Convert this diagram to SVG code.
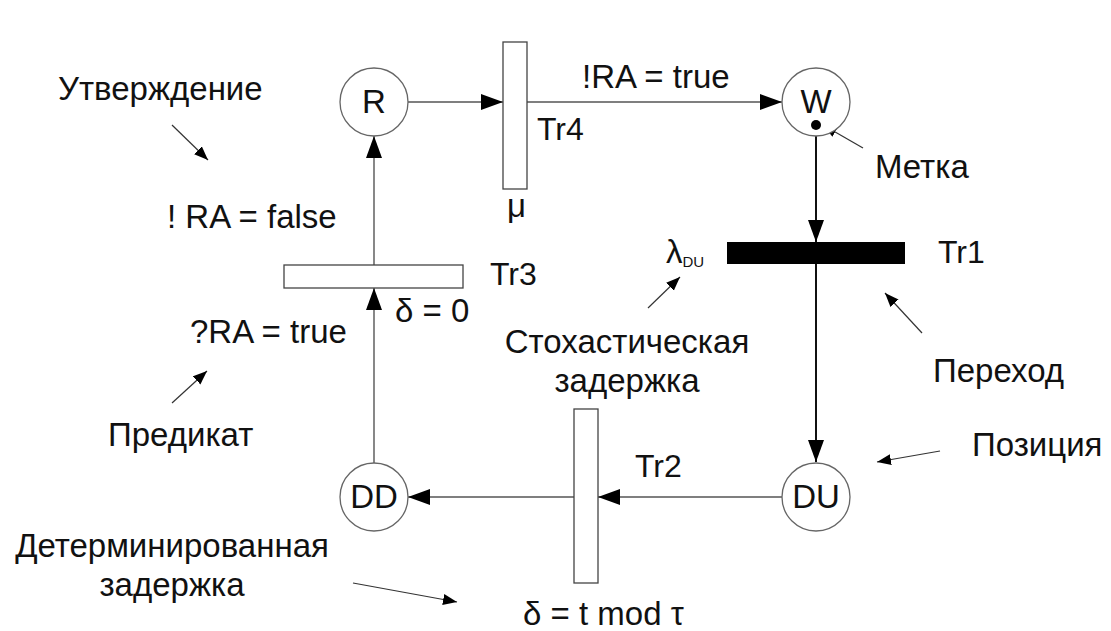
<svg xmlns="http://www.w3.org/2000/svg" width="1111" height="631" viewBox="0 0 1111 631">
<style>
text{font-family:"Liberation Sans",Arial,sans-serif;font-size:33px;fill:#111}
.tr{font-size:32px}
.place{fill:#fff;stroke:#666;stroke-width:1.3}
.trans{fill:#fff;stroke:#444;stroke-width:1.3}
.conn{fill:none;stroke:#555;stroke-width:1.4}
.connb{fill:none;stroke:#111;stroke-width:2}
.ann{fill:none;stroke:#333;stroke-width:1.2}
</style>
<defs>
<marker id="ah" markerUnits="userSpaceOnUse" markerWidth="24" markerHeight="18" refX="22" refY="8" orient="auto"><path d="M0,0 L22,8 L0,16 z" fill="#000"/></marker>
<marker id="sh" markerUnits="userSpaceOnUse" markerWidth="16" markerHeight="12" refX="14" refY="5.5" orient="auto"><path d="M0,0 L14,5.5 L0,11 z" fill="#000"/></marker>
</defs>
<rect width="1111" height="631" fill="#fff"/>
<g id="connectors">
<line class="conn" x1="408" y1="102" x2="503" y2="102" marker-end="url(#ah)"/>
<line class="conn" x1="527" y1="102" x2="782" y2="102" marker-end="url(#ah)"/>
<line class="connb" x1="816" y1="136" x2="816" y2="242" marker-end="url(#ah)"/>
<line class="connb" x1="816" y1="264" x2="816" y2="462" marker-end="url(#ah)"/>
<line class="conn" x1="782" y1="497" x2="598" y2="497" marker-end="url(#ah)"/>
<line class="conn" x1="574" y1="497" x2="408" y2="497" marker-end="url(#ah)"/>
<line class="conn" x1="374" y1="463" x2="374" y2="288" marker-end="url(#ah)"/>
<line class="conn" x1="374" y1="265" x2="374" y2="136" marker-end="url(#ah)"/>
</g>
<g id="annotations">
<line class="ann" x1="172" y1="125" x2="208" y2="160" marker-end="url(#sh)"/>
<line class="ann" x1="863" y1="148" x2="823" y2="125" marker-end="url(#sh)"/>
<line class="ann" x1="648" y1="308" x2="680" y2="277" marker-end="url(#sh)"/>
<line class="ann" x1="922" y1="333" x2="885" y2="293" marker-end="url(#sh)"/>
<line class="ann" x1="940" y1="451" x2="877" y2="462" marker-end="url(#sh)"/>
<line class="ann" x1="172" y1="403" x2="207" y2="371" marker-end="url(#sh)"/>
<line class="ann" x1="353" y1="583" x2="457" y2="602" marker-end="url(#sh)"/>
</g>
<g id="R"><circle class="place" cx="374" cy="102" r="34"/><text x="374" y="113" text-anchor="middle">R</text></g>
<g id="W"><circle class="place" cx="816" cy="102" r="34"/><text x="816" y="113" text-anchor="middle">W</text><circle cx="816" cy="125" r="5" fill="#000"/></g>
<g id="DU"><circle class="place" cx="816" cy="497" r="34"/><text x="816" y="508" text-anchor="middle">DU</text></g>
<g id="DD"><circle class="place" cx="374" cy="497" r="34"/><text x="374" y="508" text-anchor="middle">DD</text></g>
<g id="Tr4"><rect class="trans" x="503" y="42" width="24" height="147"/><text class="tr" x="537" y="140">Tr4</text><text x="507" y="217">μ</text></g>
<g id="Tr1"><rect x="727" y="242" width="178" height="22" fill="#000"/><text class="tr" x="938" y="263">Tr1</text><text x="666" y="263">λ<tspan font-size="15" dy="4">DU</tspan></text></g>
<g id="Tr3"><rect class="trans" x="284" y="265" width="179" height="23"/><text class="tr" x="490" y="285">Tr3</text><text x="395" y="322">δ = 0</text></g>
<g id="Tr2"><rect class="trans" x="574" y="409" width="24" height="174"/><text class="tr" x="635" y="477">Tr2</text><text x="523" y="625">δ = t mod τ</text></g>
<g id="labels">
<text x="58" y="100">Утверждение</text>
<text x="167" y="228">! RA = false</text>
<text x="582" y="88">!RA = true</text>
<text x="875" y="178">Метка</text>
<text x="190" y="343">?RA = true</text>
<text x="108" y="446">Предикат</text>
<text x="627" y="353" text-anchor="middle">Стохастическая</text>
<text x="627" y="392" text-anchor="middle">задержка</text>
<text x="933" y="382">Переход</text>
<text x="972" y="456">Позиция</text>
<text x="172" y="557" text-anchor="middle">Детерминированная</text>
<text x="172" y="596" text-anchor="middle">задержка</text>
</g>
</svg>
